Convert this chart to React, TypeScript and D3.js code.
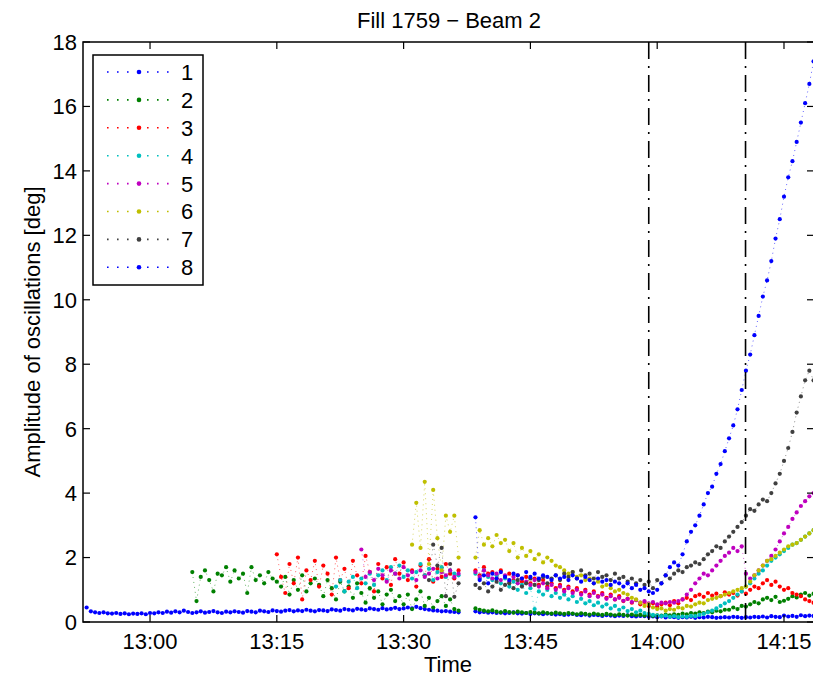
import React from "react";
import * as d3 from "d3";

// time in minutes after 13:00, sampled every STEP minutes
const STEP = 0.5;
const PRE_GAP = 36.5;
const POST_START = 38.5;

const timeTicks = [0, 15, 30, 45, 60, 75];
const timeLabels = ["13:00", "13:15", "13:30", "13:45", "14:00", "14:15"];
const yTicks = [0, 2, 4, 6, 8, 10, 12, 14, 16, 18];
const markerTimes = [59.0, 70.45];

const names = ["1", "2", "3", "4", "5", "6", "7", "8"];
const colors = ["#0000ff", "#008000", "#ff0000", "#00bfbf", "#bf00bf", "#bfbf00", "#404040", "#0000ff"];
const preStarts = [-7.5, 5.0, 15.0, 22.0, 25.0, 31.0, 33.0, null];

const s1Pre = [
  0.45, 0.33, 0.3, 0.28, 0.3, 0.27, 0.26, 0.28, 0.25, 0.27, 0.24, 0.26, 0.25, 0.27, 0.24, 0.28,
  0.27, 0.3, 0.28, 0.32, 0.29, 0.33, 0.3, 0.35, 0.31, 0.28, 0.3, 0.33, 0.29, 0.31, 0.34, 0.3, 0.28, 0.32, 0.3, 0.33,
  0.31, 0.29, 0.34, 0.32, 0.3, 0.35, 0.33, 0.31, 0.36, 0.34, 0.32, 0.35, 0.37, 0.33, 0.36, 0.34, 0.38, 0.35, 0.33, 0.37,
  0.36, 0.34, 0.39, 0.37, 0.35, 0.4, 0.38, 0.36, 0.41, 0.39, 0.37, 0.42, 0.4, 0.38, 0.43, 0.39, 0.41, 0.44, 0.4, 0.42,
  0.45, 0.42, 0.47, 0.43, 0.4, 0.38, 0.36, 0.35, 0.33, 0.34, 0.32, 0.31, 0.3,
];
const s1Post = [
  0.33, 0.3, 0.31, 0.29, 0.3, 0.28, 0.29, 0.27, 0.28, 0.3, 0.27, 0.26, 0.28, 0.25, 0.27, 0.26, 0.24, 0.26, 0.25, 0.23,
  0.24, 0.22, 0.23, 0.25, 0.22, 0.21, 0.23, 0.2, 0.22, 0.21, 0.19, 0.21, 0.2, 0.18, 0.2, 0.19, 0.21, 0.18, 0.17, 0.19,
  0.18, 0.16, 0.17, 0.15, 0.17, 0.14, 0.16, 0.15, 0.13, 0.15, 0.14, 0.16, 0.13, 0.15, 0.14, 0.16, 0.15, 0.13, 0.14, 0.15,
  0.14, 0.16, 0.15, 0.13, 0.15, 0.14, 0.16, 0.15, 0.17, 0.14, 0.18, 0.16, 0.15, 0.2, 0.17, 0.19, 0.16, 0.21, 0.18, 0.2, 0.19,
];

const s2Pre = [
  1.55, 0.65, 1.4, 1.6, 1.3, 0.95, 1.5, 1.45, 1.7, 1.25,
  1.6, 1.35, 1.5, 0.9, 1.7, 1.3, 1.45, 1.2, 1.55, 1.35,
  1.25, 1.1, 1.4, 0.85, 1.3, 1.0, 1.45, 0.95, 1.2, 1.35,
  1.15, 0.8, 1.3, 1.05, 0.7, 1.25, 0.95, 1.1, 0.75, 1.2,
  0.9, 0.6, 1.05, 0.75, 0.95, 0.55, 0.85, 1.0, 0.65, 0.8,
  0.55, 0.85, 0.4, 0.7, 0.95, 0.5, 0.75, 0.45, 0.65, 0.8,
  0.5, 0.7, 0.4, 0.35,
];
const s2Post = [
  0.42, 0.38, 0.35, 0.33, 0.36, 0.32, 0.3, 0.34, 0.31, 0.29, 0.32, 0.3, 0.28, 0.31, 0.29, 0.27, 0.3, 0.28, 0.26, 0.29,
  0.27, 0.25, 0.28, 0.26, 0.24, 0.27, 0.25, 0.23, 0.26, 0.24, 0.22, 0.25, 0.23, 0.21, 0.24, 0.22, 0.2, 0.23, 0.21, 0.22,
  0.2, 0.22, 0.19, 0.21, 0.2, 0.23, 0.21, 0.24, 0.22, 0.26, 0.24, 0.28, 0.26, 0.3, 0.28, 0.32, 0.3, 0.35, 0.33, 0.38,
  0.38, 0.45, 0.4, 0.5, 0.48, 0.55, 0.62, 0.58, 0.7, 0.75, 0.68, 0.78, 0.62, 0.66, 0.72, 0.8, 0.76, 0.85, 0.9, 0.82, 0.88,
];

const s3Pre = [
  2.1, 1.4, 0.9, 1.8, 1.2, 2.0, 0.7, 1.6, 1.3, 1.9,
  1.1, 1.75, 1.5, 0.85, 2.0, 1.3, 1.65, 1.05, 1.9, 1.45,
  1.2, 2.05, 1.55, 0.95, 1.8, 1.35, 1.7, 1.15, 1.95, 1.5,
  1.85, 1.3, 1.6, 1.1, 1.75, 1.45, 1.95, 1.25, 1.65, 1.4,
  1.8, 1.5, 1.35, 1.6,
];
const s3Post = [
  1.6, 1.45, 1.7, 1.5, 1.55, 1.35, 1.6, 1.4, 1.5, 1.3, 1.45, 1.25, 1.4, 1.2, 1.35, 1.15, 1.3, 1.1, 1.2, 1.05,
  1.15, 1.0, 1.1, 0.95, 1.05, 0.9, 1.0, 0.85, 0.95, 0.8, 0.9, 0.75, 0.85, 0.7, 0.8, 0.65, 0.72, 0.6, 0.68, 0.55,
  0.62, 0.5, 0.58, 0.48, 0.55, 0.6, 0.52, 0.65, 0.58, 0.7, 0.75, 0.68, 0.8, 0.85, 0.78, 0.9, 0.82, 0.88, 0.8, 0.92,
  0.85, 0.9, 0.82, 0.95, 0.88, 1.0, 1.1, 1.05, 1.2, 1.3, 1.15, 1.25, 1.1, 1.0, 1.05, 0.9, 0.85, 0.8, 0.7, 0.65, 0.6,
];

const s4Pre = [
  1.1, 1.3, 0.95, 1.25, 1.4, 1.05, 1.35, 1.2, 1.5, 1.15, 1.45, 1.6, 1.3, 1.7, 1.5,
  1.75, 1.4, 1.6, 1.35, 1.55, 1.8, 1.45, 1.65, 1.3, 1.55, 1.7, 1.4, 1.6, 1.5, 1.45,
];
const s4Post = [
  1.5, 1.35, 1.6, 1.4, 1.3, 1.45, 1.2, 1.35, 1.1, 1.25, 1.0, 1.15, 0.9, 1.05, 0.4, 0.95, 0.85, 1.0, 0.8, 0.9,
  0.75, 0.85, 0.7, 0.8, 0.62, 0.72, 0.58, 0.65, 0.52, 0.6, 0.48, 0.55, 0.42, 0.5, 0.38, 0.45, 0.34, 0.4, 0.3, 0.35,
  0.28, 0.25, 0.22, 0.2, 0.18, 0.2, 0.16, 0.18, 0.15, 0.17, 0.16, 0.19, 0.18, 0.22, 0.25, 0.3, 0.35, 0.42, 0.5, 0.58,
  0.65, 0.75, 0.85, 0.95, 1.1, 1.2, 1.35, 1.5, 1.6, 1.75, 1.9, 2.0, 2.1, 2.2, 2.3, 2.4, 2.45, 2.55, 2.65, 2.75, 2.85,
];

const s5Pre = [
  2.25, 1.4, 1.55, 1.3, 1.65, 1.45, 1.25, 1.6, 1.5, 1.35, 1.7, 1.45,
  1.55, 1.3, 1.6, 1.4, 1.5, 1.65, 1.35, 1.55, 1.45, 1.6, 1.4, 1.5,
];
const s5Post = [
  1.55, 1.4, 1.6, 1.45, 1.35, 1.5, 1.3, 1.45, 1.25, 1.4, 1.2, 1.35, 1.25, 1.15, 1.3, 1.1, 1.2, 1.05, 1.15, 1.0,
  1.1, 0.95, 1.05, 0.9, 1.0, 0.85, 0.95, 0.8, 0.9, 0.78, 0.85, 0.72, 0.8, 0.7, 0.75, 0.66, 0.72, 0.62, 0.68, 0.6,
  0.65, 0.58, 0.62, 0.55, 0.6, 0.58, 0.62, 0.6, 0.65, 0.7, 0.85, 1.0, 1.2, 1.35, 1.5, 1.45, 1.6, 1.75, 1.9, 2.05,
  2.15, 2.3, 2.2, 2.35, 1.5, 1.35, 1.45, 1.6, 1.75, 1.9, 2.05, 2.25, 2.5, 2.75, 2.95, 3.2, 3.4, 3.6, 3.75, 3.9, 4.0,
];

const s6Pre = [2.4, 3.7, 2.3, 4.35, 1.8, 4.1, 2.6, 1.6, 3.3, 2.8, 3.3, 2.0];
const s6Post = [
  2.0, 2.85, 2.4, 2.6, 2.35, 2.7, 2.45, 2.55, 2.2, 2.45, 2.0, 2.3, 2.05, 2.2, 1.95, 2.1, 1.85, 2.0, 1.9, 1.75,
  1.7, 1.6, 1.5, 1.55, 1.4, 1.45, 1.3, 1.35, 1.2, 1.25, 1.1, 1.15, 1.05, 0.95, 1.0, 0.9, 0.85, 0.75, 0.7, 0.6,
  0.5, 0.55, 0.45, 0.4, 0.42, 0.35, 0.4, 0.38, 0.45, 0.42, 0.5, 0.48, 0.55, 0.6, 0.58, 0.68, 0.72, 0.75, 0.8, 0.85,
  0.9, 0.95, 1.0, 1.05, 1.1, 1.25, 1.45, 1.6, 1.75, 1.9, 1.95, 2.05, 2.15, 2.25, 2.35, 2.4, 2.45, 2.55, 2.65, 2.75, 2.85,
];

const s7Pre = [1.3, 2.4, 1.75, 2.3, 0.8, 1.8, 0.78, 1.2];
const s7Post = [
  1.15, 1.05, 1.2, 0.95, 1.1, 1.25, 1.0, 1.15, 1.2, 1.05, 1.3, 1.1, 1.2, 1.35, 1.15, 1.3, 1.4, 1.2, 1.35, 1.45,
  1.3, 1.5, 1.4, 1.55, 1.35, 1.6, 1.45, 1.5, 1.35, 1.55, 1.4, 1.45, 1.3, 1.5, 1.35, 1.4, 1.25, 1.35, 1.2, 1.3,
  1.15, 1.25, 1.05, 1.3, 1.2, 1.45, 1.35, 1.5, 1.6, 1.55, 1.7, 1.75, 1.85, 1.8, 1.95, 2.1, 2.2, 2.35, 2.3, 2.5,
  2.65, 2.8, 2.95, 3.1, 3.3, 3.5, 3.45, 3.65, 3.8, 3.75, 4.0, 4.3, 4.6, 5.0, 5.4, 5.9, 6.5, 7.0, 7.5, 7.8, 7.5,
];

const s8Post = [
  3.25, 1.3, 1.45, 1.2, 1.5, 1.35, 1.55, 1.4, 1.3, 1.5, 1.45, 1.35, 1.55, 1.4, 1.5, 1.35, 1.45, 1.4, 1.3, 1.45,
  1.35, 1.4, 1.3, 1.45, 1.35, 1.25, 1.4, 1.3, 1.2, 1.35, 1.25, 1.3, 1.15, 1.25, 1.2, 1.1, 1.2, 1.05, 1.15, 1.0,
  1.05, 0.95, 0.9, 1.0, 1.2, 1.45, 1.7, 1.85, 1.75, 2.1, 2.5, 2.8, 3.0, 3.3, 3.65, 4.0, 4.2, 4.6, 4.9, 5.3,
  5.7, 6.1, 6.6, 7.2, 7.8, 8.3, 8.9, 9.5, 10.1, 10.6, 11.2, 11.9, 12.5, 13.2, 13.8, 14.3, 14.9, 15.5, 16.1, 16.7, 17.4,
];

const preValues = [s1Pre, s2Pre, s3Pre, s4Pre, s5Pre, s6Pre, s7Pre, []];
const postValues = [s1Post, s2Post, s3Post, s4Post, s5Post, s6Post, s7Post, s8Post];

const W = 813;
const H = 677;
const FONT = "'Liberation Sans', Arial, Helvetica, sans-serif";

type Pt = { t: number; v: number };

const toPoints = (start: number | null, values: number[]): Pt[] =>
  start === null ? [] : values.map((v, i) => ({ t: start + i * STEP, v }));

const App = () => {
  const x = d3.scaleLinear().domain([-7.93, 78.55]).range([83, 814]);
  const y = d3.scaleLinear().domain([0, 18]).range([622, 42]);
  const [x0, x1] = x.range();
  const [y0, y1] = y.range();

  const line = d3
    .line<Pt>()
    .x((d) => x(d.t))
    .y((d) => y(d.v));

  const series = names.map((name, i) => ({
    name,
    color: colors[i],
    segments: [
      toPoints(preStarts[i], preValues[i]).filter((d) => d.t <= PRE_GAP),
      toPoints(POST_START, postValues[i]),
    ].filter((s) => s.length > 0),
  }));

  const tickLen = 7;

  return (
    <svg
      width={W}
      height={H}
      style={{ position: "absolute", left: 0, top: 0, background: "#fff" }}
      fontFamily={FONT}
    >
      <defs>
        <clipPath id="plot-clip">
          <rect x={x0} y={y1} width={x1 - x0} height={y0 - y1} />
        </clipPath>
      </defs>

      <text x={449} y={27.5} textAnchor="middle" fontSize={22}>
        Fill 1759 − Beam 2
      </text>

      {/* data */}
      <g clipPath="url(#plot-clip)">
        {series.map((s) => (
          <g key={s.name}>
            {s.segments.map((seg, j) => (
              <path
                key={j}
                d={line(seg) || ""}
                fill="none"
                stroke={s.color}
                strokeWidth={1}
                strokeDasharray="1,4"
                opacity={0.6}
              />
            ))}
            {s.segments.flat().map((d, j) => (
              <circle key={j} cx={x(d.t)} cy={y(d.v)} r={2.1} fill={s.color} />
            ))}
          </g>
        ))}

        {markerTimes.map((t) => (
          <line
            key={t}
            x1={x(t)}
            x2={x(t)}
            y1={y1}
            y2={y0}
            stroke="#000"
            strokeWidth={1.6}
            strokeDasharray="17,7,2,7"
          />
        ))}
      </g>

      {/* axes box */}
      <rect x={x0} y={y1} width={x1 - x0} height={y0 - y1} fill="none" stroke="#000" strokeWidth={1.5} />

      {yTicks.map((v) => (
        <g key={v}>
          <line x1={x0} x2={x0 + tickLen} y1={y(v)} y2={y(v)} stroke="#000" strokeWidth={1.2} />
          <line x1={x1 - tickLen} x2={x1} y1={y(v)} y2={y(v)} stroke="#000" strokeWidth={1.2} />
          <text x={77} y={y(v)} dy="0.36em" textAnchor="end" fontSize={22}>
            {v}
          </text>
        </g>
      ))}

      {timeTicks.map((t, i) => (
        <g key={t}>
          <line x1={x(t)} x2={x(t)} y1={y0} y2={y0 - tickLen} stroke="#000" strokeWidth={1.2} />
          <line x1={x(t)} x2={x(t)} y1={y1} y2={y1 + tickLen} stroke="#000" strokeWidth={1.2} />
          <text x={x(t)} y={649} textAnchor="middle" fontSize={22}>
            {timeLabels[i]}
          </text>
        </g>
      ))}

      <text x={448} y={672} textAnchor="middle" fontSize={22}>
        Time
      </text>
      <text
        transform={`translate(40,${(y0 + y1) / 2}) rotate(-90)`}
        textAnchor="middle"
        fontSize={22}
      >
        Amplitude of oscillations [deg]
      </text>

      {/* legend */}
      <g>
        <rect x={93} y={55} width={110} height={230} fill="#fff" stroke="#000" strokeWidth={1.5} />
        {series.map((s, i) => {
          const ly = 72 + i * 27.9;
          return (
            <g key={s.name}>
              <line
                x1={107}
                x2={170}
                y1={ly}
                y2={ly}
                stroke={s.color}
                strokeWidth={1.6}
                strokeDasharray="1.6,8.4"
              />
              <circle cx={139} cy={ly} r={2.3} fill={s.color} />
              <text x={181} y={ly} dy="0.36em" fontSize={22}>
                {s.name}
              </text>
            </g>
          );
        })}
      </g>
    </svg>
  );
};

export default App;
